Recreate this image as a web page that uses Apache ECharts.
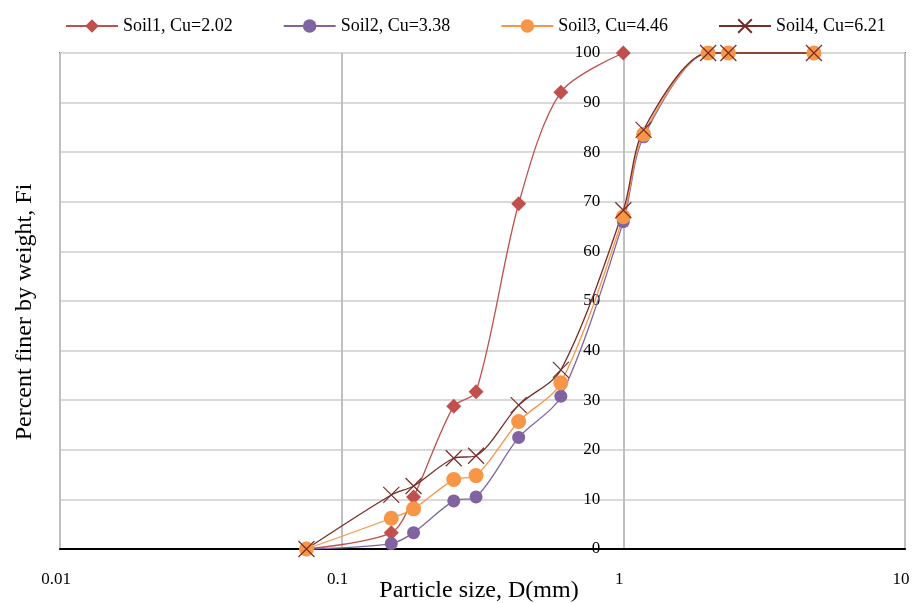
<!DOCTYPE html>
<html>
<head>
<meta charset="utf-8">
<script src="https://cdn.jsdelivr.net/npm/echarts@6/dist/echarts.min.js"></script>
<style>html,body{margin:0;padding:0;background:#fff}#c{width:922px;height:603px}</style>
</head>
<body>
<div id="c"></div>
<script>
const seriesNames = ['Soil1, Cu=2.02', 'Soil2, Cu=3.38', 'Soil3, Cu=4.46', 'Soil4, Cu=6.21'];
const soil1Sizes = [0.075, 0.15, 0.18, 0.25, 0.3, 0.425, 0.6, 1.0];
const soil1Finer = [0, 3.3, 10.5, 28.8, 31.7, 69.6, 92.1, 100];
const sizes = [0.075, 0.15, 0.18, 0.25, 0.3, 0.425, 0.6, 1.0, 1.18, 2.0, 2.36, 4.75];
const soil2Finer = [0, 1.1, 3.3, 9.7, 10.5, 22.5, 30.8, 66.0, 83.1, 100, 100, 100];
const soil3Finer = [0, 6.2, 8.1, 14.0, 14.8, 25.7, 33.5, 67.0, 83.6, 100, 100, 100];
const soil4Finer = [0, 10.9, 12.7, 18.3, 18.8, 29.0, 36.1, 68.3, 84.5, 100, 100, 100];
const xTicks = [0.01, 0.1, 1, 10];
const xTitle = 'Particle size, D(mm)';
const yTitle = 'Percent finer by weight, Fi';

const font = 'Liberation Serif, Times New Roman, serif';
const pair = (xs, ys) => xs.map((x, i) => [x, ys[i]]);
const colors = ['#C0504D', '#8064A2', '#F79646', '#772C2A'];
const crossPath = 'path://M0,0L10,10M10,0L0,10';

function mk(name, data, color, symbol, size, extra) {
  return Object.assign({
    name: name, type: 'line', data: data, smooth: 0.3, clip: false,
    symbol: symbol, symbolSize: size,
    lineStyle: { color: color, width: 1.3 },
    itemStyle: { color: color },
    emphasis: { disabled: true }
  }, extra || {});
}

const chart = echarts.init(document.getElementById('c'));
chart.setOption({
  animation: false,
  textStyle: { fontFamily: font },
  legend: {
    left: 60, top: 12, itemWidth: 52, itemHeight: 17, itemGap: 50,
    textStyle: { fontFamily: font, fontSize: 18, color: '#000' },
    data: seriesNames
  },
  grid: { left: 60, right: 17, top: 53, bottom: 54, outerBoundsMode: 'none', containLabel: false,
    show: true, borderColor: '#000', borderWidth: 1.5, backgroundColor: 'transparent' },
  graphic: [{
    type: 'text', x: 25, y: 312, rotation: Math.PI / 2,
    style: { text: yTitle, fontFamily: font, fontSize: 24, fill: '#000', align: 'center', verticalAlign: 'middle' }
  }, {
    type: 'text', x: 479, y: 591,
    style: { text: xTitle, fontFamily: font, fontSize: 24, fill: '#000', align: 'center', verticalAlign: 'middle' }
  }],
  xAxis: {
    type: 'log', logBase: 10, min: 0.01, max: 10,
    axisLine: { show: true, lineStyle: { color: '#000', width: 2 } },
    axisTick: { show: false },
    axisLabel: { margin: 22, fontFamily: font, fontSize: 17, color: '#000', padding: [0, 8, 0, 0],
      formatter: v => { const r = xTicks.find(t => Math.abs(t - v) / t < 1e-6); return r !== undefined ? String(r) : ''; } },
    splitLine: { show: true, lineStyle: { color: '#bfbfbf', width: 2 } },
    minorTick: { show: false }
  },
  yAxis: {
    type: 'value', min: 0, max: 100, interval: 10, position: 'left', offset: -563.3,
    axisLine: { show: false }, axisTick: { show: false },
    axisLabel: { margin: 23, fontFamily: font, fontSize: 17, color: '#000' },
    splitLine: { show: true, lineStyle: { color: '#d9d9d9', width: 2 } }
  },
  series: [
    mk(seriesNames[0], pair(soil1Sizes, soil1Finer), colors[0], 'diamond', 15),
    mk(seriesNames[1], pair(sizes, soil2Finer), colors[1], 'circle', 13),
    mk(seriesNames[2], pair(sizes, soil3Finer), colors[2], 'circle', 15),
    mk(seriesNames[3], pair(sizes, soil4Finer), colors[3], crossPath, 16,
      { itemStyle: { color: colors[3], borderColor: colors[3], borderWidth: 1.2 } })
  ]
});
</script>
</body>
</html>
